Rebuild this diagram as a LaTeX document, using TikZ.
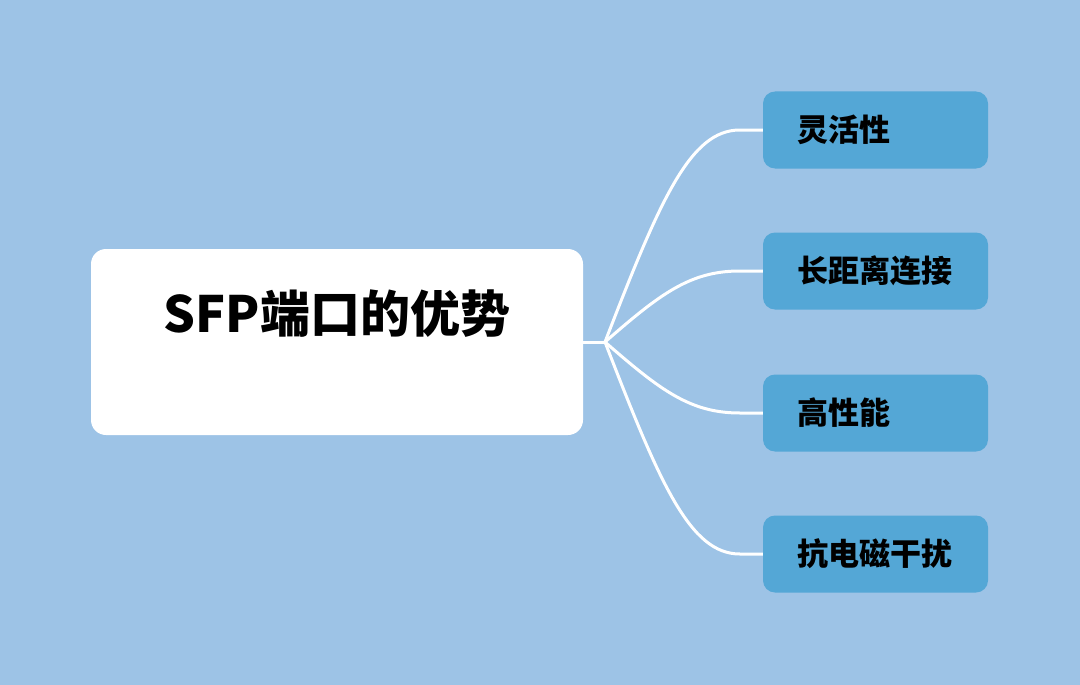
\documentclass[tikz,border=0pt]{standalone}
\usepackage{fontspec}
\newfontfamily\cjk{Noto Sans CJK SC}
\usepackage{tikz}
\definecolor{bgBlue}{RGB}{157,195,230}
\definecolor{leafBlue}{RGB}{84,167,214}

\begin{document}
\begin{tikzpicture}[x=1pt,y=-1pt,
                    rootND/.style={rectangle,
                                   fill=white,
                                   rounded corners=15pt,
                                   minimum width=492pt,
                                   minimum height=186pt,
                                   text height=40pt,
                                   text depth=60pt,
                                   align=center,
                                   font=\cjk\bfseries\fontsize{50}{60}\selectfont},
                    leafND/.style={rectangle,
                                   fill=leafBlue,
                                   rounded corners=12pt,
                                   minimum height=77pt,
                                   inner xsep=34pt,
                                   text width=157pt,
                                   align=left,
                                   font=\cjk\bfseries\fontsize{31}{37}\selectfont},
                    branch/.style={draw=white,line width=3pt}]
                \fill[bgBlue] (0,0) rectangle (1080,685);
                \node[rootND](R)  at (337,342)   {SFP端口的优势};
                \node[leafND](L1) at (875.5,130) {灵活性};
                \node[leafND](L2) at (875.5,271) {长距离连接};
                \node[leafND](L3) at (875.5,413) {高性能};
                \node[leafND](L4) at (875.5,554) {抗电磁干扰};
                \coordinate (J) at (605,342);
                \draw[branch] (R.east) -- (J);
                \draw[branch] (J) .. controls (660,200) and (690,130) .. ([xshift=-23pt]L1.west) -- (L1.west);
                \draw[branch] (J) .. controls (660,294) and (690,271) .. ([xshift=-23pt]L2.west) -- (L2.west);
                \draw[branch] (J) .. controls (660,390) and (690,413) .. ([xshift=-23pt]L3.west) -- (L3.west);
                \draw[branch] (J) .. controls (660,484) and (690,554) .. ([xshift=-23pt]L4.west) -- (L4.west);
\end{tikzpicture}
\end{document}
